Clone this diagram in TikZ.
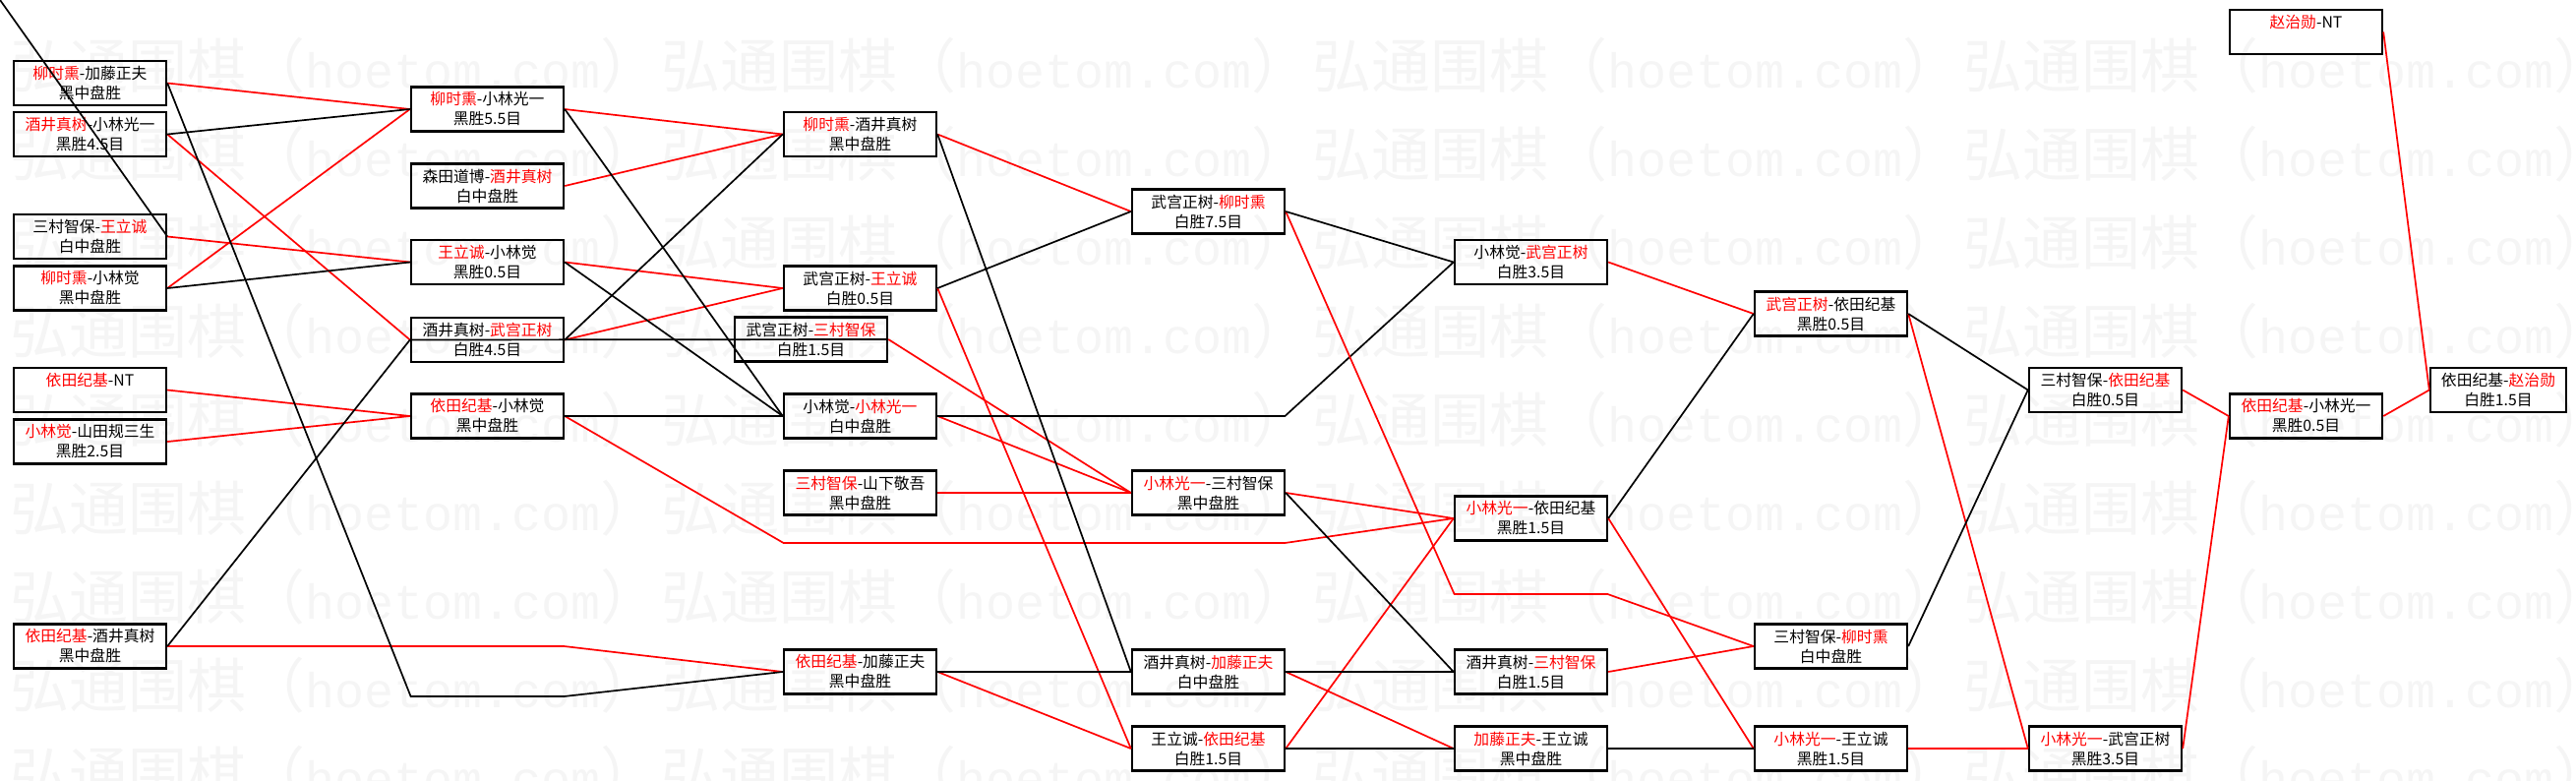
\documentclass[tikz,border=0pt]{standalone}
\usepackage{fontspec}
\usepackage{xcolor}
\usepackage{tikz}
\usetikzlibrary{positioning}
\newfontfamily\cjkfont{Noto Sans CJK SC}
\newfontfamily\markfont{Liberation Mono}
\newcommand{\winner}[1]{\textcolor{red}{#1}}

\begin{document}
\begin{tikzpicture}[
  x=0.5pt, y=-0.5pt,
  every node/.style={font=\cjkfont\fontsize{7.9pt}{10pt}\selectfont},
  box/.style={draw, line width=1.2pt, minimum width=77.5pt, minimum height=22.5pt, inner sep=0pt, align=center},
  ghost/.style={minimum width=77.5pt, minimum height=22.5pt, inner sep=0pt},
  win/.style={red, line width=0.85pt},
  lose/.style={black, line width=0.85pt},
  wmark/.style={text=black!4, inner sep=0pt, anchor=west, font=\cjkfont\fontsize{30pt}{30pt}\selectfont}
]
\useasboundingbox (0,0) rectangle (2619,793);
\clip (0,0) rectangle (2619,793);

\foreach \row in {0,...,8}
  \foreach \col in {0,...,3}
    \node[wmark] at ({10+662*\col},{67+90*\row}) {弘通围棋（{\markfont\fontsize{25pt}{25pt}\selectfont hoetom.com}）};

\node[box] (a1) at (91.5,84.5) {\winner{柳时熏}-加藤正夫\\黑中盘胜};
\node[box] (a2) at (91.5,136.5) {\winner{酒井真树}-小林光一\\黑胜4.5目};
\node[box] (a3) at (91.5,240.5) {三村智保-\winner{王立诚}\\白中盘胜};
\node[box] (a4) at (91.5,293) {\winner{柳时熏}-小林觉\\黑中盘胜};
\node[box] (a5) at (91.5,396.5) {\winner{依田纪基}-NT\\\phantom{黑}};
\node[box] (a6) at (91.5,449) {\winner{小林觉}-山田规三生\\黑胜2.5目};
\node[box] (a7) at (91.5,657) {\winner{依田纪基}-酒井真树\\黑中盘胜};

\node[box] (b1) at (495.5,111) {\winner{柳时熏}-小林光一\\黑胜5.5目};
\node[box] (b2) at (495.5,189) {森田道博-\winner{酒井真树}\\白中盘胜};
\node[box] (b3) at (495.5,266.5) {\winner{王立诚}-小林觉\\黑胜0.5目};
\node[box] (b4) at (495.5,345.5) {酒井真树-\winner{武宫正树}\\白胜4.5目};
\node[box] (b5) at (495.5,423) {\winner{依田纪基}-小林觉\\黑中盘胜};
\node[ghost] (b6) at (495.5,657) {};
\node[ghost] (b7) at (495.5,708) {};

\node[box] (c1) at (874.5,136.5) {\winner{柳时熏}-酒井真树\\黑中盘胜};
\node[box] (c2) at (874.5,293) {武宫正树-\winner{王立诚}\\白胜0.5目};
\node[box] (c2b) at (824.5,345) {武宫正树-\winner{三村智保}\\白胜1.5目};
\node[box] (c3) at (874.5,423) {小林觉-\winner{小林光一}\\白中盘胜};
\node[box] (c4) at (874.5,501) {\winner{三村智保}-山下敬吾\\黑中盘胜};
\node[ghost] (c6) at (874.5,552) {};
\node[box] (c5) at (874.5,683) {\winner{依田纪基}-加藤正夫\\黑中盘胜};

\node[box] (d1) at (1228.5,215) {武宫正树-\winner{柳时熏}\\白胜7.5目};
\node[ghost] (d5) at (1228.5,423) {};
\node[box] (d2) at (1228.5,501) {\winner{小林光一}-三村智保\\黑中盘胜};
\node[ghost] (d6) at (1228.5,552) {};
\node[box] (d3) at (1228.5,683) {酒井真树-\winner{加藤正夫}\\白中盘胜};
\node[box] (d4) at (1228.5,761) {王立诚-\winner{依田纪基}\\白胜1.5目};

\node[box] (e1) at (1556.5,266.5) {小林觉-\winner{武宫正树}\\白胜3.5目};
\node[box] (e2) at (1556.5,527) {\winner{小林光一}-依田纪基\\黑胜1.5目};
\node[ghost] (e5) at (1556.5,604) {};
\node[box] (e3) at (1556.5,683) {酒井真树-\winner{三村智保}\\白胜1.5目};
\node[box] (e4) at (1556.5,761) {\winner{加藤正夫}-王立诚\\黑中盘胜};

\node[box] (f1) at (1861.5,319) {\winner{武宫正树}-依田纪基\\黑胜0.5目};
\node[box] (f2) at (1861.5,657) {三村智保-\winner{柳时熏}\\白中盘胜};
\node[box] (f3) at (1861.5,761) {\winner{小林光一}-王立诚\\黑胜1.5目};

\node[box] (g1) at (2140.5,396.5) {三村智保-\winner{依田纪基}\\白胜0.5目};
\node[box] (g2) at (2140.5,761) {\winner{小林光一}-武宫正树\\黑胜3.5目};

\node[box] (h0) at (2344.5,32.5) {\winner{赵治勋}-NT\\\phantom{黑}};
\node[box] (h1) at (2344.5,423) {\winner{依田纪基}-小林光一\\黑胜0.5目};

\node[box, minimum width=69pt] (i1) at (2540,396.5) {依田纪基-\winner{赵治勋}\\白胜1.5目};

\coordinate (corner) at (-7,-10);

\draw[win] (a1.east) -- (b1.west);
\draw[win] (a2.east) -- (b4.west);
\draw[win] (a3.east) -- (b3.west);
\draw[win] (a4.east) -- (b1.west);
\draw[win] (a5.east) -- (b5.west);
\draw[win] (a6.east) -- (b5.west);
\draw[win] (a7.east) -- (b6.west) -- (b6.east) -- (c5.west);
\draw[lose] (a1.east) -- (b7.west) -- (b7.east) -- (c5.west);
\draw[lose] (a2.east) -- (b1.west);
\draw[lose] (a3.east) -- (corner);
\draw[lose] (a4.east) -- (b3.west);
\draw[lose] (a7.east) -- (b4.west);

\draw[win] (b1.east) -- (c1.west);
\draw[win] (b2.east) -- (c1.west);
\draw[win] (b3.east) -- (c2.west);
\draw[win] (b4.east) -- (c2.west);
\draw[win] (b5.east) -- (c6.west) -- (d6.east) -- (e2.west);
\draw[lose] (b1.east) -- (c3.west);
\draw[lose] (b3.east) -- (c3.west);
\draw[lose] (b4.east) -- (c1.west);
\draw[lose] (b4.west) -- (c2b.east);
\draw[lose] (b5.east) -- (c3.west);

\draw[win] (c1.east) -- (d1.west);
\draw[win] (c2.east) -- (d4.west);
\draw[win] (c2b.east) -- (d2.west);
\draw[win] (c3.east) -- (d2.west);
\draw[win] (c4.east) -- (d2.west);
\draw[win] (c5.east) -- (d4.west);
\draw[lose] (c1.east) -- (d3.west);
\draw[lose] (c2.east) -- (d1.west);
\draw[lose] (c3.east) -- (d5.east) -- (e1.west);
\draw[lose] (c5.east) -- (d3.west);

\draw[win] (d1.east) -- (e5.west) -- (e5.east) -- (f2.west);
\draw[win] (d2.east) -- (e2.west);
\draw[win] (d3.east) -- (e4.west);
\draw[win] (d4.east) -- (e2.west);
\draw[lose] (d1.east) -- (e1.west);
\draw[lose] (d2.east) -- (e3.west);
\draw[lose] (d3.east) -- (e3.west);
\draw[lose] (d4.east) -- (e4.west);

\draw[win] (e1.east) -- (f1.west);
\draw[win] (e2.east) -- (f3.west);
\draw[win] (e3.east) -- (f2.west);
\draw[lose] (e2.east) -- (f1.west);
\draw[lose] (e4.east) -- (f3.west);

\draw[win] (f1.east) -- (g2.west);
\draw[win] (f3.east) -- (g2.west);
\draw[lose] (f1.east) -- (g1.west);
\draw[lose] (f2.east) -- (g1.west);

\draw[win] (g1.east) -- (h1.west);
\draw[win] (g2.east) -- (h1.west);
\draw[win] (h1.east) -- (i1.west);
\draw[win] (h0.east) -- (i1.west);
\end{tikzpicture}
\end{document}
